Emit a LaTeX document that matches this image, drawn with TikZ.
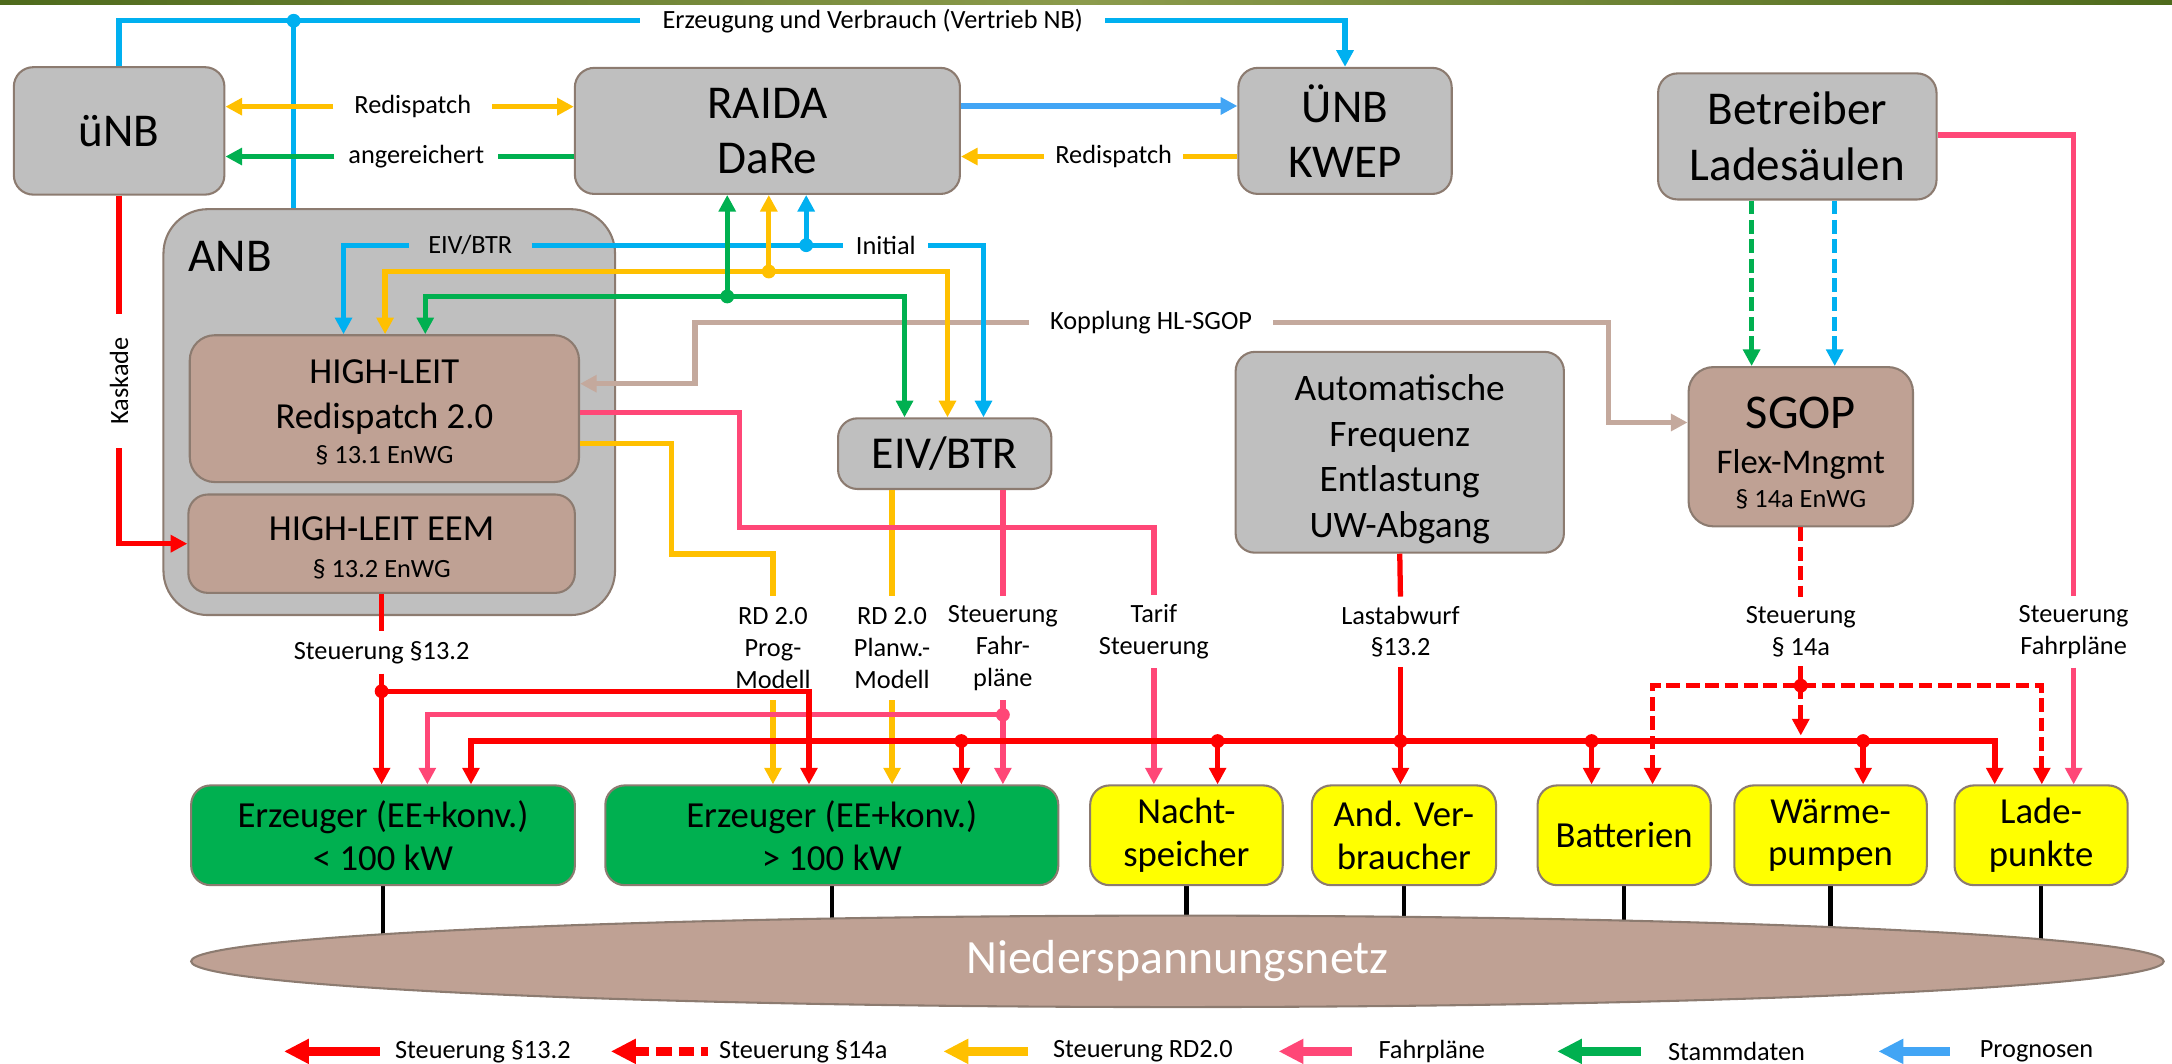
\documentclass[tikz,border=0pt]{standalone}
\usepackage{fontspec}
\setmainfont{Carlito}
\usetikzlibrary{arrows.meta,shapes.geometric,backgrounds}
\definecolor{boxgray}{HTML}{BFBFBF}
\definecolor{bord}{HTML}{8C7B70}
\definecolor{rosy}{HTML}{BFA194}
\definecolor{tanl}{HTML}{C4A99D}
\definecolor{egreen}{HTML}{00B050}
\definecolor{eyel}{HTML}{FFFF00}
\definecolor{cred}{HTML}{FF0000}
\definecolor{cyel}{HTML}{FFC000}
\definecolor{cpink}{HTML}{FF4777}
\definecolor{cgrn}{HTML}{00B050}
\definecolor{cblu}{HTML}{00B0F0}
\definecolor{clbl}{HTML}{42A5F5}
\definecolor{oliveA}{HTML}{4E6A1C}
\definecolor{oliveB}{HTML}{8C9B4C}
\begin{document}
\begin{tikzpicture}[x=1pt,y=-1pt,
  >={Triangle[length=12pt,width=12pt]},
  box/.style={draw=bord,line width=1.5pt,rounded corners=14pt,fill=boxgray,align=center,inner sep=0pt},
  rbox/.style={box,fill=rosy},
  gbox/.style={box,fill=egreen,font=\fontsize{26.5}{31}\selectfont},
  ybox/.style={box,fill=eyel,font=\fontsize{26.5}{31}\selectfont},
  bigt/.style={font=\fontsize{34}{40}\selectfont},
  lab/.style={font=\fontsize{19}{23}\selectfont,align=center,inner xsep=12pt,inner ysep=6pt},
  txt/.style={anchor=base,inner sep=0pt},
  ln/.style={line width=3.8pt},
  lred/.style={ln,draw=cred},
  lyel/.style={ln,draw=cyel},
  lpnk/.style={ln,draw=cpink},
  lgrn/.style={ln,draw=cgrn},
  lblu/.style={ln,draw=cblu},
  llbl/.style={ln,draw=clbl},
  ltan/.style={ln,draw=tanl},
  dsh/.style={dash pattern=on 10pt off 4pt},
  leg/.style={line width=6.5pt,{Triangle[length=18pt,width=17pt]}-},
  legt/.style={font=\fontsize{19}{23}\selectfont,anchor=west,inner sep=0pt}
]
\useasboundingbox (0,0) rectangle (1568,768);
\shade[left color=oliveA,right color=oliveA,middle color=oliveB] (0,0) rectangle (1568,3);

% network
\node[ellipse,draw=bord,line width=1.5pt,fill=rosy,minimum width=1424pt,minimum height=66pt,inner sep=0pt,
      font=\fontsize{34.5}{40}\selectfont,text=white] (nsn) at (850,694) {Niederspannungsnetz};

% boxes
\node[box,bigt,minimum width=152pt,minimum height=92pt] (unb) at (86,94.5) {üNB};
\node[box,bigt,minimum width=278pt,minimum height=91pt] (raida) at (554,94.5) {RAIDA\\DaRe};
\node[box,bigt,minimum width=154pt,minimum height=91pt] (uenb) at (971,94.5) {ÜNB\\KWEP};
\node[box,bigt,minimum width=201pt,minimum height=91pt] (betr) at (1297.5,98.5) {Betreiber\\Ladesäulen};
\node[box,minimum width=326pt,minimum height=293pt,rounded corners=32pt] (anb) at (281,297.5) {};
\node[bigt,inner sep=0pt] (anbt) at (166,185) {ANB};
\node[rbox,minimum width=281pt,minimum height=106pt,rounded corners=18pt] (hl) at (277.5,295) {};
\node[txt,font=\fontsize{26.5}{32}\selectfont] (hl1) at (277.5,276.5) {HIGH-LEIT};
\node[txt,font=\fontsize{26.5}{32}\selectfont] (hl2) at (277.5,309.5) {Redispatch 2.0};
\node[txt,font=\fontsize{19}{23}\selectfont] (hl3) at (277.5,334.6) {§ 13.1 EnWG};
\node[rbox,minimum width=279pt,minimum height=71pt] (eem) at (275.5,392.5) {};
\node[txt,font=\fontsize{26.5}{32}\selectfont] (eem1) at (275.5,390.5) {HIGH-LEIT EEM};
\node[txt,font=\fontsize{19}{23}\selectfont] (eem2) at (275.5,417) {§ 13.2 EnWG};
\node[box,font=\fontsize{33}{40}\selectfont,minimum width=154pt,minimum height=51pt] (eiv) at (682,327.5) {EIV/BTR};
\node[box,minimum width=237pt,minimum height=145pt] (auto) at (1010.5,326.5) {};
\node[font=\fontsize{27}{33}\selectfont,align=center,inner sep=0pt] (autot) at (1010.5,331.5) {Automatische\\Frequenz\\Entlastung\\UW-Abgang};
\node[rbox,minimum width=162pt,minimum height=115pt,rounded corners=18pt] (sgop) at (1300,322.5) {};
\node[txt,font=\fontsize{35}{40}\selectfont] (sg1) at (1300,309) {SGOP};
\node[txt,font=\fontsize{25}{30}\selectfont] (sg2) at (1300,341.8) {Flex-Mngmt};
\node[txt,font=\fontsize{19}{23}\selectfont] (sg3) at (1300,366.5) {§ 14a EnWG};

\node[gbox,minimum width=277pt,minimum height=72pt] (erz1) at (276.5,603) {Erzeuger (EE+konv.)\\< 100 kW};
\node[gbox,minimum width=327pt,minimum height=72pt] (erz2) at (600.5,603) {Erzeuger (EE+konv.)\\> 100 kW};
\node[ybox,minimum width=139pt,minimum height=72pt] (nacht) at (856.5,603) {Nacht-\\speicher};
\node[ybox,minimum width=133pt,minimum height=72pt] (andv) at (1013.5,603) {And. Ver-\\braucher};
\node[ybox,minimum width=125pt,minimum height=72pt] (batt) at (1172.5,603) {Batterien};
\node[ybox,minimum width=139pt,minimum height=72pt] (waerm) at (1321.5,603) {Wärme-\\pumpen};
\node[ybox,minimum width=125pt,minimum height=72pt] (lade) at (1473.5,603) {Lade-\\punkte};

% labels
\node[lab,inner xsep=16pt] (lblErz) at (630,15) {Erzeugung und Verbrauch (Vertrieb NB)};
\node[lab,inner xsep=15pt] (lblR1) at (298,77) {Redispatch};
\node[lab,inner xsep=10pt] (lblA) at (300.5,113) {angereichert};
\node[lab,inner xsep=8pt] (lblR2) at (804,113) {Redispatch};
\node[lab,inner xsep=14pt] (lblE) at (339.5,177) {EIV/BTR};
\node[lab,inner xsep=9pt] (lblI) at (639.5,177) {Initial};
\node[lab,inner xsep=15pt] (lblK) at (831,233) {Kopplung HL-SGOP};
\node[lab,rotate=90,inner xsep=17pt,inner ysep=2pt] (lblKas) at (86,275) {Kaskade};
\node[lab,inner ysep=7pt] (lblS13) at (275.5,471) {Steuerung §13.2};
\node[lab,inner ysep=8pt] (lblRP) at (558,468) {RD 2.0\\Prog-\\Modell};
\node[lab,inner ysep=8pt] (lblRW) at (644,468) {RD 2.0\\Planw.-\\Modell};
\node[lab,inner ysep=6.5pt] (lblSF) at (724,468) {Steuerung\\Fahr-\\pläne};
\node[lab,inner ysep=6.5pt] (lblT) at (833,456) {Tarif\\Steuerung};
\node[lab,inner ysep=6.5pt] (lblL) at (1011,456) {Lastabwurf\\§13.2};
\node[lab,inner ysep=6.5pt] (lbl14) at (1300,456) {Steuerung\\§ 14a};
\node[lab,inner ysep=6.5pt] (lblSF2) at (1497,456) {Steuerung\\Fahrpläne};

% coordinates for junctions
\coordinate (dTop) at (212,15);
\coordinate (dB) at (582,177);
\coordinate (dY) at (555,196);
\coordinate (dG) at (525,214);
\coordinate (cP1) at (534,381);
\coordinate (cY1) at (485,400);
\coordinate (dP) at (724,516);
\coordinate (dR1) at (275.5,499);
\coordinate (dA) at (1011,535);
\coordinate (d1) at (694,535);
\coordinate (d2) at (879,535);
\coordinate (d4) at (1149,535);
\coordinate (d5) at (1345,535);
\coordinate (dS) at (1300,495);

% lines to the network
\begin{scope}[on background layer]
\foreach \n in {erz1,erz2,nacht,andv,batt,waerm,lade}
  \draw[line width=3pt] (\n.south) -- (\n.south |- nsn.center);
\end{scope}

% top blue
\draw[lblu] (unb.north) |- (lblErz.west);
\draw[lblu,->] (lblErz.east) -| (uenb.north);
\draw[lblu] (dTop) -- (dTop |- anb.north);

% uNB <-> RAIDA
\draw[lyel,->] (lblR1.west) -- (lblR1.west -| unb.east);
\draw[lyel,->] (lblR1.east) -- (lblR1.east -| raida.west);
\draw[lgrn] (lblA.east -| raida.west) -- (lblA.east);
\draw[lgrn,->] (lblA.west) -- (lblA.west -| unb.east);
\draw[llbl,->] ([yshift=18pt]raida.east) -- ([yshift=18pt]raida.east -| uenb.west);
\draw[lyel] (lblR2.east -| uenb.west) -- (lblR2.east);
\draw[lyel,->] (lblR2.west) -- (lblR2.west -| raida.east);

% Kopplung
\draw[ltan,->] (lblK.east) -| ([xshift=-57pt,yshift=17.5pt]sgop.west) -- ([yshift=17.5pt]sgop.west);
\draw[ltan,->] (lblK.west) -| ([xshift=83pt,yshift=18pt]hl.east) -- ([yshift=18pt]hl.east);

% data lines ANB / RAIDA / EIV
\draw[lblu,->] (lblE.west) -| ([xshift=-29.5pt]hl.north);
\draw[lblu] (lblE.east) -- (lblI.west);
\draw[lblu,->] (lblI.east) -| ([xshift=28pt]eiv.north);
\draw[lblu,->] (dB) -- (dB |- raida.south);
\draw[lyel,<->] ([xshift=0.5pt]hl.north) |- (dY) -| ([xshift=2pt]eiv.north);
\draw[lyel,->] (dY) -- (dY |- raida.south);
\draw[lgrn,<->] ([xshift=29.5pt]hl.north) |- (dG) -| ([xshift=-29pt]eiv.north);
\draw[lgrn,->] (dG) -- (dG |- raida.south);

% HL outputs
\draw[lyel] ([yshift=-25pt]hl.east) -| (cY1) -| (lblRP.north);
\draw[lyel,->] (lblRP.south) -- (lblRP.south |- erz2.north);
\draw[lyel] ([xshift=-38pt]eiv.south) -- (lblRW.north);
\draw[lyel,->] (lblRW.south) -- (lblRW.south |- erz2.north);
\draw[lpnk] ([yshift=-3pt]hl.east) -| (cP1) -| (lblT.north);
\draw[lpnk,->] (lblT.south) -- (lblT.south |- nacht.north);
\draw[lpnk] ([xshift=42pt]eiv.south) -- (lblSF.north);
\draw[lpnk,->] (lblSF.south) -- (lblSF.south |- erz2.north);
\draw[lpnk,->] (dP) -| ([xshift=32pt]erz1.north);

% Kaskade and EEM
\draw[lred] (unb.south) -- (lblKas.east);
\draw[lred,->] (lblKas.west) |- (eem.west);
\draw[lred] (eem.south) -- (lblS13.north);
\draw[lred,->] (lblS13.south) -- (lblS13.south |- erz1.north);
\draw[lred,->] (dR1) -| ([xshift=-16.5pt]erz2.north);

% Lastabwurf bus
\draw[lred] (auto.south) -- (lblL.north);
\draw[lred,->] (lblL.south) -- (lblL.south |- andv.north);
\draw[lred,<->,line width=4.5pt] ([xshift=63.5pt]erz1.north) |- (dA) -| ([xshift=-33.5pt]lade.north);
\draw[lred,->] (d1) -- (d1 |- erz2.north);
\draw[lred,->] (d2) -- (d2 |- nacht.north);
\draw[lred,->] (d4) -- (d4 |- batt.north);
\draw[lred,->] (d5) -- (d5 |- waerm.north);

% SGOP 14a
\draw[lred,dsh] (sgop.south) -- (lbl14.north);
\draw[lred,dsh,->] (lbl14.south) -- ([yshift=-36pt]dS);
\draw[lred,dsh,<->] ([xshift=20.5pt]batt.north) |- (dS) -| ([xshift=0.5pt]lade.north);

% Betreiber
\draw[lpnk] ([yshift=1pt]betr.east) -| (lblSF2.north);
\draw[lpnk,->] (lblSF2.south) -- (lblSF2.south |- lade.north);
\draw[lgrn,dsh,->] ([xshift=-33pt]betr.south) -- ([xshift=-33pt]betr.south |- sgop.north);
\draw[lblu,dsh,->] ([xshift=27pt]betr.south) -- ([xshift=27pt]betr.south |- sgop.north);

% dots
\fill[cblu] (dTop) circle[radius=5pt] (dB) circle[radius=5pt];
\fill[cyel] (dY) circle[radius=5pt];
\fill[cgrn] (dG) circle[radius=5pt];
\fill[cpink] (dP) circle[radius=5pt];
\fill[cred] (dR1) circle[radius=5pt] (dA) circle[radius=5pt] (d1) circle[radius=5pt]
  (d2) circle[radius=5pt] (d4) circle[radius=5pt] (d5) circle[radius=5pt] (dS) circle[radius=5pt];

% legend
\coordinate (lg1a) at (205,759); \coordinate (lg1b) at (274,759);
\coordinate (lg2a) at (441,759); \coordinate (lg2b) at (511,759);
\coordinate (lg3a) at (681,759); \coordinate (lg3b) at (742,759);
\coordinate (lg4a) at (923,759); \coordinate (lg4b) at (976,759);
\coordinate (lg5a) at (1124,759); \coordinate (lg5b) at (1185,759);
\coordinate (lg6a) at (1356,759); \coordinate (lg6b) at (1408,759);
\draw[cred,leg] (lg1a) -- (lg1b);
\node[legt] (lt1) at (285,759) {Steuerung §13.2};
\draw[cred,leg,dash pattern=on 11pt off 5pt] (lg2a) -- (lg2b);
\node[legt] (lt2) at (519,759) {Steuerung §14a};
\draw[cyel,leg] (lg3a) -- (lg3b);
\node[legt] (lt3) at (760,759) {Steuerung RD2.0};
\draw[cpink,leg] (lg4a) -- (lg4b);
\node[legt] (lt4) at (995,759) {Fahrpläne};
\draw[cgrn,leg] (lg5a) -- (lg5b);
\node[legt] (lt5) at (1204,759) {Stammdaten};
\draw[clbl,leg] (lg6a) -- (lg6b);
\node[legt] (lt6) at (1429,759) {Prognosen};
\end{tikzpicture}
\end{document}
